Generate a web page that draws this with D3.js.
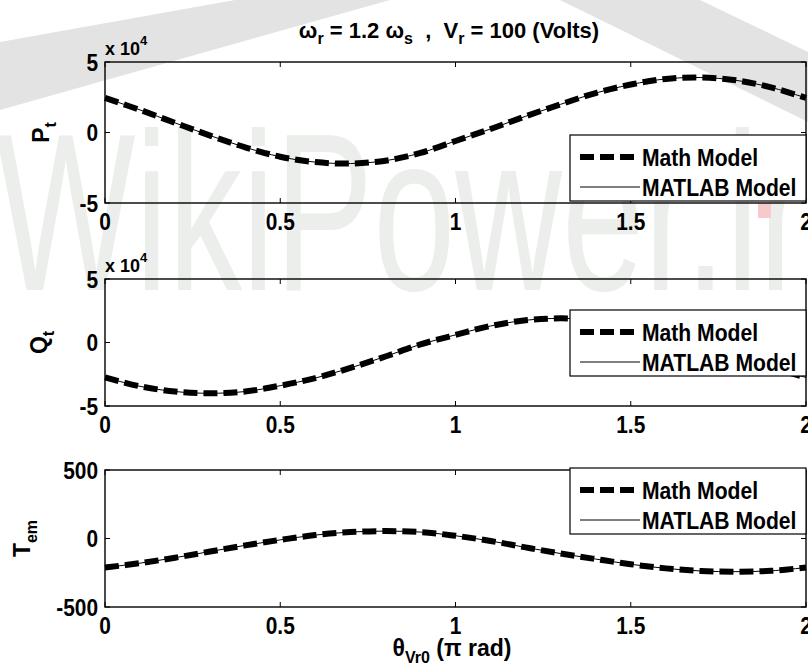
<!DOCTYPE html>
<html>
<head>
<meta charset="utf-8">
<script src="https://cdn.jsdelivr.net/npm/d3@7"></script>
<style>
  html, body { margin: 0; padding: 0; background: #fff; }
  svg { display: block; }
  text { font-family: "Liberation Sans", Arial, sans-serif; font-weight: bold; fill: #000; white-space: pre; }
</style>
</head>
<body>
<svg id="chart" width="808" height="671"></svg>
<script>
// ---- data ----
const theta = [0, 0.1, 0.2, 0.3, 0.4, 0.5, 0.6, 0.7, 0.8, 0.9, 1.0, 1.1, 1.2, 1.3, 1.4, 1.5, 1.6, 1.7, 1.8, 1.9, 2.0];
const Pt = [2.45, 1.6, 0.68, -0.22, -1.05, -1.72, -2.1, -2.2, -2.0, -1.45, -0.6, 0.25, 1.15, 2.0, 2.8, 3.4, 3.8, 3.9, 3.7, 3.2, 2.45];   // x 10^4
const Qt = [-2.75, -3.45, -3.86, -4.0, -3.86, -3.4, -2.8, -2.0, -1.1, -0.15, 0.6, 1.3, 1.75, 1.9, 1.76, 1.34, 0.68, -0.14, -1.05, -1.96, -2.75]; // x 10^4
const Tem = [-212, -180, -140, -95, -50, -10, 25, 47, 54, 47, 20, -18, -65, -110, -150, -188, -218, -237, -242, -236, -212];
const xTicks = [0, 0.5, 1, 1.5, 2];
const xTickLabels = ["0", "0.5", "1", "1.5", "2"];
const pqTicks = [-5, 0, 5];
const tTicks = [-500, 0, 500];
const legendLabels = ["Math Model", "MATLAB Model"];

const svg = d3.select("#chart");

// condensed-looking bold text helper
function label(parent, x, y, str, size, anchor, sx) {
  return parent.append("g").attr("transform", `translate(${x},${y}) scale(${sx},1)`)
    .append("text").attr("text-anchor", anchor || "start").style("font-size", size + "px").text(str);
}

// ---- faint background watermark ----
const wm = svg.append("g");
wm.append("polygon").attr("points", "0,42 235,0 390,0 0,110").attr("fill", "#e3e3e3");
wm.append("polygon").attr("points", "560,0 700,0 808,52 808,122").attr("fill", "#e3e3e3");
wm.append("text").attr("x", -4).attr("y", 290)
  .attr("textLength", 812).attr("lengthAdjust", "spacingAndGlyphs")
  .style("font-weight", "normal").style("font-size", "225px").style("fill", "#ebeeeb")
  .text("WikiPower.ir");
wm.append("rect").attr("x", 758).attr("y", 203).attr("width", 13).attr("height", 15).attr("fill", "#f6caca");

const xLeft = 105, xRight = 806;
const x = d3.scaleLinear().domain([0, 2]).range([xLeft, xRight]);

const panels = [
  { top: 62, bottom: 203, values: Pt, domain: [-5, 5], ticks: pqTicks, label: ["P", "t"], exp: true, legendTop: 135, labelX: 49 },
  { top: 279, bottom: 406, values: Qt, domain: [-5, 5], ticks: pqTicks, label: ["Q", "t"], exp: true, legendTop: 310, labelX: 47 },
  { top: 470, bottom: 607, values: Tem, domain: [-500, 500], ticks: tTicks, label: ["T", "em"], exp: false, legendTop: 468, labelX: 30 }
];

panels.forEach(p => {
  const y = d3.scaleLinear().domain(p.domain).range([p.bottom, p.top]);
  const g = svg.append("g");

  // ticks (inward, all four sides)
  xTicks.forEach(t => {
    g.append("line").attr("x1", x(t)).attr("x2", x(t)).attr("y1", p.bottom).attr("y2", p.bottom - 5).attr("stroke", "#000");
    g.append("line").attr("x1", x(t)).attr("x2", x(t)).attr("y1", p.top).attr("y2", p.top + 5).attr("stroke", "#000");
  });
  p.ticks.forEach(t => {
    g.append("line").attr("x1", xLeft).attr("x2", xLeft + 5).attr("y1", y(t)).attr("y2", y(t)).attr("stroke", "#000");
    g.append("line").attr("x1", xRight).attr("x2", xRight - 5).attr("y1", y(t)).attr("y2", y(t)).attr("stroke", "#000");
  });

  // curves
  const line = d3.line().x((d, i) => x(theta[i])).y(d => y(d)).curve(d3.curveCatmullRom);
  g.append("path").datum(p.values).attr("d", line)
    .attr("fill", "none").attr("stroke", "#000").attr("stroke-width", 6).attr("stroke-dasharray", "14,6");
  g.append("path").datum(p.values).attr("d", line)
    .attr("fill", "none").attr("stroke", "#000").attr("stroke-width", 1);

  // box
  g.append("rect").attr("x", xLeft).attr("y", p.top).attr("width", xRight - xLeft).attr("height", p.bottom - p.top)
    .attr("fill", "none").attr("stroke", "#000").attr("stroke-width", 1.4);

  // tick labels
  xTicks.forEach((t, i) => label(g, x(t), p.bottom + 27, xTickLabels[i], 24, "middle", 0.87));
  p.ticks.forEach(t => label(g, 98, y(t) + 8.5, String(t), 24, "end", 0.87));

  // exponent
  if (p.exp) {
    const e = g.append("text").attr("x", 105).attr("y", p.top - 7).style("font-size", "18px");
    e.append("tspan").text("x 10");
    e.append("tspan").attr("dy", -10).style("font-size", "13px").text("4");
  }

  // y label
  const yl = g.append("text")
    .attr("transform", `translate(${p.labelX},${(p.top + p.bottom) / 2}) rotate(-90)`)
    .attr("text-anchor", "middle").style("font-size", "23px");
  yl.append("tspan").text(p.label[0]);
  yl.append("tspan").attr("dy", 7).style("font-size", "16px").text(p.label[1]);

  // legend
  const lg = g.append("g");
  lg.append("rect").attr("x", 570).attr("y", p.legendTop).attr("width", xRight - 570).attr("height", 66)
    .attr("fill", "#fff").attr("stroke", "#000").attr("stroke-width", 1.2);
  const e1 = p.legendTop + 22, e2 = p.legendTop + 52;
  lg.append("line").attr("x1", 580).attr("x2", 637).attr("y1", e1).attr("y2", e1)
    .attr("stroke", "#000").attr("stroke-width", 6).attr("stroke-dasharray", "14,6");
  lg.append("line").attr("x1", 580).attr("x2", 640).attr("y1", e2).attr("y2", e2)
    .attr("stroke", "#000").attr("stroke-width", 1);
  label(lg, 642, e1 + 8.5, legendLabels[0], 24, "start", 0.88);
  label(lg, 642, e2 + 8.5, legendLabels[1], 24, "start", 0.88);
});

// title
const title = svg.append("text").attr("x", 449).attr("y", 38).attr("text-anchor", "middle").style("font-size", "22px");
title.append("tspan").text("ω");
title.append("tspan").attr("dy", 6).style("font-size", "16px").text("r");
title.append("tspan").attr("dy", -6).text(" = 1.2 ω");
title.append("tspan").attr("dy", 6).style("font-size", "16px").text("s");
title.append("tspan").attr("dy", -6).text("  ,  V");
title.append("tspan").attr("dy", 6).style("font-size", "16px").text("r");
title.append("tspan").attr("dy", -6).text(" = 100 (Volts)");

// x label
const xl = svg.append("text").attr("x", 452).attr("y", 656).attr("text-anchor", "middle").style("font-size", "23px");
xl.append("tspan").text("θ");
xl.append("tspan").attr("dy", 7).style("font-size", "16px").text("Vr0");
xl.append("tspan").attr("dy", -7).text(" (π rad)");
</script>
</body>
</html>
